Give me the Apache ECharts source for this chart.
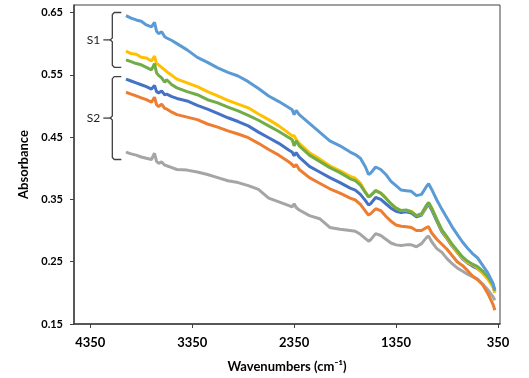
<!DOCTYPE html>
<html>
<head>
<meta charset="utf-8">
<script src="https://cdn.jsdelivr.net/npm/echarts@6/dist/echarts.min.js"></script>
<style>
  html, body { margin: 0; padding: 0; background: #fff; }
  #chart { width: 529px; height: 378px; }
</style>
</head>
<body>
<div id="chart"></div>
<script>
// wavenumbers (cm-1) shared by every spectrum
const wavenumbers = [4000,3950,3900,3850,3800,3750,3720,3700,3680,3650,3620,3600,3550,3500,3400,3300,3200,3100,3000,2900,
  2800,2700,2600,2500,2400,2370,2350,2330,2300,2200,2100,2000,1900,1800,1750,1700,1650,1620,1600,1550,
  1500,1450,1400,1350,1300,1250,1200,1150,1100,1050,1030,1000,950,900,850,800,750,700,650,600,
  550,500,450,400,380];

const lightBlue = [0.645,0.641,0.638,0.636,0.630,0.627,0.634,0.620,0.616,0.619,0.611,0.609,0.605,0.600,0.590,0.578,0.570,0.561,0.554,0.548,
  0.539,0.528,0.516,0.507,0.497,0.494,0.486,0.493,0.486,0.472,0.458,0.444,0.436,0.426,0.422,0.416,0.402,0.390,0.392,0.402,
  0.398,0.390,0.379,0.372,0.365,0.364,0.363,0.356,0.358,0.371,0.375,0.366,0.349,0.334,0.320,0.306,0.294,0.282,0.272,0.263,
  0.256,0.244,0.232,0.216,0.204];
const yellow = [0.588,0.584,0.583,0.578,0.577,0.572,0.580,0.568,0.566,0.562,0.558,0.555,0.549,0.543,0.537,0.531,0.523,0.516,0.509,0.503,
  0.497,0.487,0.478,0.468,0.456,0.452,0.452,0.446,0.440,0.425,0.415,0.404,0.396,0.387,0.384,0.376,0.362,0.354,0.356,0.364,
  0.360,0.352,0.343,0.336,0.332,0.332,0.331,0.324,0.326,0.340,0.344,0.336,0.318,0.300,0.288,0.276,0.266,0.256,0.249,0.245,
  0.240,0.232,0.222,0.210,0.200];
const green = [0.574,0.571,0.568,0.566,0.562,0.558,0.568,0.553,0.549,0.545,0.538,0.542,0.534,0.529,0.523,0.518,0.510,0.505,0.498,0.492,
  0.485,0.477,0.468,0.459,0.449,0.446,0.436,0.444,0.436,0.421,0.411,0.401,0.393,0.383,0.380,0.373,0.361,0.354,0.356,0.364,
  0.360,0.352,0.343,0.336,0.332,0.333,0.330,0.324,0.327,0.341,0.345,0.336,0.318,0.301,0.290,0.278,0.268,0.258,0.251,0.246,
  0.242,0.235,0.226,0.214,0.204];
const darkBlue = [0.543,0.540,0.537,0.534,0.531,0.527,0.533,0.523,0.521,0.524,0.518,0.519,0.515,0.512,0.508,0.501,0.495,0.488,0.481,0.475,
  0.468,0.458,0.449,0.440,0.429,0.426,0.420,0.425,0.418,0.403,0.394,0.385,0.377,0.368,0.365,0.358,0.348,0.341,0.343,0.353,
  0.350,0.343,0.336,0.331,0.329,0.330,0.328,0.322,0.325,0.338,0.342,0.333,0.315,0.298,0.287,0.275,0.265,0.255,0.248,0.243,
  0.239,0.232,0.223,0.211,0.201];
const orange = [0.522,0.519,0.516,0.513,0.510,0.506,0.514,0.502,0.499,0.503,0.496,0.495,0.490,0.486,0.482,0.478,0.471,0.466,0.460,0.455,
  0.449,0.440,0.430,0.421,0.410,0.406,0.402,0.406,0.398,0.385,0.376,0.367,0.360,0.352,0.349,0.342,0.331,0.325,0.327,0.335,
  0.332,0.323,0.315,0.309,0.307,0.306,0.305,0.300,0.300,0.305,0.306,0.296,0.286,0.278,0.270,0.260,0.250,0.244,0.236,0.227,
  0.221,0.213,0.199,0.182,0.172];
const gray = [0.426,0.423,0.421,0.418,0.416,0.414,0.424,0.411,0.408,0.410,0.405,0.404,0.401,0.398,0.397,0.394,0.390,0.385,0.380,0.377,
  0.372,0.366,0.352,0.346,0.340,0.338,0.343,0.337,0.333,0.324,0.319,0.305,0.302,0.300,0.299,0.294,0.287,0.283,0.285,0.295,
  0.292,0.286,0.280,0.277,0.276,0.277,0.277,0.274,0.279,0.289,0.291,0.282,0.271,0.265,0.255,0.247,0.240,0.235,0.230,0.226,
  0.222,0.214,0.205,0.194,0.188];

const xTicks = [4350, 3350, 2350, 1350, 350];
const yTicks = [0.15, 0.25, 0.35, 0.45, 0.55, 0.65];

// brackets grouping the spectra
const braceLabels = ['S1', 'S2'];
const braceTops = [0.650, 0.547];
const braceBottoms = [0.562, 0.414];

const font = 'Lato, "Open Sans", sans-serif';
const axisColor = '#404040';

const chart = echarts.init(document.getElementById('chart'));

const pairs = vals => wavenumbers.map((w, i) => [w, vals[i]]);
const line = (name, vals, color) => ({
  name, type: 'line', data: pairs(vals), showSymbol: false, symbol: 'none',
  lineStyle: { color, width: 3 }, itemStyle: { color }, animation: false
});

const option = {
  animation: false,
  grid: {
    left: 74, right: 29, top: 5, bottom: 53,
    show: true, borderColor: axisColor, borderWidth: 1
  },
  xAxis: {
    type: 'value', inverse: true, min: 330, max: 4510,
    name: 'Wavenumbers (cm\u207B\u00B9)', nameLocation: 'middle', nameGap: 36,
    nameTextStyle: { fontFamily: font, fontWeight: 'bold', fontSize: 13, color: '#000' },
    axisLine: { show: true, lineStyle: { color: axisColor, width: 1.5 } },
    axisTick: { show: true, customValues: xTicks, length: 4, lineStyle: { color: axisColor } },
    axisLabel: { customValues: xTicks, margin: 12, fontFamily: font, fontWeight: 'bold', fontSize: 13, color: '#000',
      formatter: v => String(v) },
    splitLine: { show: false }
  },
  yAxis: {
    type: 'value', min: 0.15, max: 0.662,
    name: 'Absorbance', nameLocation: 'middle', nameGap: 37, nameRotate: 90,
    nameTextStyle: { fontFamily: font, fontWeight: 'bold', fontSize: 13, color: '#000' },
    axisLine: { show: true, lineStyle: { color: axisColor, width: 1.5 } },
    axisTick: { show: true, customValues: yTicks, length: 4, lineStyle: { color: axisColor } },
    axisLabel: { customValues: yTicks, margin: 11, fontFamily: font, fontWeight: 'bold', fontSize: 11, color: '#000',
      formatter: v => v.toFixed(2) },
    splitLine: { show: false }
  },
  series: [
    line('gray', gray, '#A5A5A5'),
    line('orange', orange, '#ED7D31'),
    line('darkBlue', darkBlue, '#4472C4'),
    line('yellow', yellow, '#FFC000'),
    line('green', green, '#70AD47'),
    line('lightBlue', lightBlue, '#5B9BD5')
  ]
};
chart.setOption(option);

// draw the S1 / S2 braces at their absorbance ranges
const graphics = [];
braceLabels.forEach((lab, i) => {
  const top = chart.convertToPixel({ gridIndex: 0 }, [4134, braceTops[i]]);
  const bot = chart.convertToPixel({ gridIndex: 0 }, [4134, braceBottoms[i]]);
  const x = top[0], y1 = top[1], y2 = bot[1], ym = (y1 + y2) / 2;
  graphics.push({
    type: 'polyline', silent: true,
    shape: { points: [[x + 9, y1], [x + 2, y1], [x, y1 + 2], [x, ym - 2], [x - 2, ym], [x, ym + 2], [x, y2 - 2], [x + 2, y2], [x + 9, y2]] },
    style: { stroke: axisColor, lineWidth: 1.3, fill: null }
  });
  graphics.push({
    type: 'line', silent: true,
    shape: { x1: x - 9, y1: ym, x2: x - 2, y2: ym },
    style: { stroke: axisColor, lineWidth: 1.3 }
  });
  graphics.push({
    type: 'text', silent: true, x: x - 12, y: ym,
    style: { text: lab, fontFamily: font, fontSize: 12, fill: '#222', align: 'right', verticalAlign: 'middle' }
  });
});
chart.setOption({ graphic: graphics });
</script>
</body>
</html>
